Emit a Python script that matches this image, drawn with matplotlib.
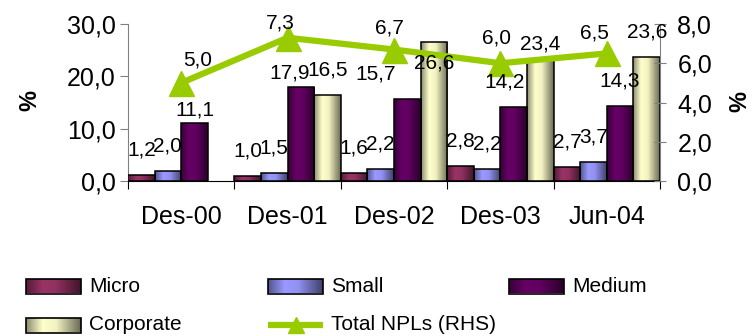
import numpy as np
import matplotlib
matplotlib.use('Agg')
import matplotlib.pyplot as plt
from matplotlib.colors import to_rgb
from matplotlib.patches import Rectangle

# NPL ratios by segment (%), left axis
categories = ['Des-00', 'Des-01', 'Des-02', 'Des-03', 'Jun-04']
micro = [1.2, 1.0, 1.6, 2.8, 2.7]
small = [2.0, 1.5, 2.2, 2.2, 3.7]
medium = [11.1, 17.9, 15.7, 14.2, 14.3]
corporate = [np.nan, 16.5, 26.6, 23.4, 23.6]
# total NPLs (%), right axis
total_npl = [5.0, 7.3, 6.7, 6.0, 6.5]

left_ticks = [0, 10, 20, 30]
right_ticks = [0, 2, 4, 6, 8]

series = [
    ('Micro', micro, '#993366'),
    ('Small', small, '#9999FF'),
    ('Medium', medium, '#660066'),
    ('Corporate', corporate, '#FFFFCC'),
]
line_name = 'Total NPLs (RHS)'
line_color = '#99CC00'

# label nudges in pixels (dx, dy); dy positive = up
bar_label_nudge = {(2, 0): (0, -12), (2, 1): (-11, -11), (2, 2): (-32, 0),
                   (3, 2): (0, -46), (2, 3): (-9, 0), (3, 3): (0, -10)}
line_label_nudge = [(16, 1), (-7, -7), (-5, 0), (-4, 3), (-12, -2)]

plt.rcParams['font.family'] = ['Liberation Sans', 'DejaVu Sans']
PX = 0.72  # points per pixel at 100 dpi


def fmt(v):
    return f'{v:.1f}'.replace('.', ',')


def shade(color, n=64):
    base = np.array(to_rgb(color))
    t = np.linspace(0, 1, n)
    k = np.interp(t, [0, 0.3, 0.55, 1], [0.55, 1.0, 0.95, 0.42])
    rgb = np.clip(base[None, :] * k[:, None], 0, 1)
    return rgb[None, :, :]


W, H = 754, 336
fig = plt.figure(figsize=(W / 100, H / 100), dpi=100)
ax = fig.add_axes([128 / W, 1 - 181 / H, (660 - 128) / W, (181 - 24) / H])
ax2 = ax.twinx()

nser = len(series)
bw = 1 / nser
for j, (name, vals, col) in enumerate(series):
    grad = shade(col)
    for i, v in enumerate(vals):
        if np.isnan(v):
            continue
        x0 = i + j * bw
        rect = Rectangle((x0, 0), bw, v, facecolor='none', edgecolor='black',
                         lw=1.1, zorder=3)
        ax.add_patch(rect)
        im = ax.imshow(grad, extent=[x0, x0 + bw, 0, v], aspect='auto',
                       zorder=2, interpolation='bilinear')
        im.set_clip_path(rect)
        dx, dy = bar_label_nudge.get((j, i), (0, 0))
        ax2.annotate(fmt(v), xy=(x0 + bw / 2, v), xycoords=ax.transData,
                     xytext=(dx * PX, (25 + dy) * PX), textcoords='offset points',
                     ha='center', va='center', fontsize=15, zorder=10,
                     annotation_clip=False)

ax.set_xlim(0, len(categories))
ax.set_ylim(0, 30)

xc = np.arange(len(categories)) + 0.5
ax2.plot(xc, total_npl, color=line_color, lw=4.5, marker='^', ms=18,
         mfc=line_color, mec=line_color, zorder=5)
for i, v in enumerate(total_npl):
    dx, dy = line_label_nudge[i]
    ax2.annotate(fmt(v), xy=(xc[i], v), xytext=(dx * PX, (22 + dy) * PX),
                 textcoords='offset points', ha='center', va='center',
                 fontsize=15, zorder=10, annotation_clip=False)
ax2.set_ylim(0, 8)

# axes styling
ax.set_xticks(range(len(categories) + 1))
ax.set_xticklabels([])
ax.set_xticks(xc, minor=True)
ax.set_xticklabels(categories, minor=True, fontsize=18)
ax.tick_params(axis='x', which='major', direction='out', length=6, color='black')
ax.tick_params(axis='x', which='minor', length=0, pad=17)
ax.set_yticks(left_ticks)
ax.set_yticklabels([fmt(t) for t in left_ticks], fontsize=18)
ax.tick_params(axis='y', direction='out', length=6, color='#808080', pad=3)
ax2.set_yticks(right_ticks)
ax2.set_yticklabels([fmt(t) for t in right_ticks], fontsize=18)
ax2.tick_params(axis='y', direction='inout', length=9, color='#808080', pad=8)

for a in (ax, ax2):
    a.spines['top'].set_visible(False)
ax.spines['right'].set_visible(False)
ax.spines['left'].set_color('#808080')
ax.spines['bottom'].set_color('black')
ax2.spines['left'].set_visible(False)
ax2.spines['bottom'].set_visible(False)
ax2.spines['right'].set_color('#808080')

fig.text(30 / W, 1 - 100 / H, '%', rotation=90, fontsize=17, fontweight='bold',
         ha='center', va='center')
fig.text(740 / W, 1 - 102 / H, '%', rotation=90, fontsize=17, fontweight='bold',
         ha='center', va='center')

# legend drawn in pixel coordinates
lax = fig.add_axes([0, 0, 1, 1])
lax.axis('off')
slots = [(26, 286), (268, 286), (509, 286), (26, 325), (268, 325)]
pw, ph = 55, 15
for (name, vals, col), (x, y) in zip(series, slots):
    r = Rectangle((x, y - ph / 2), pw, ph, facecolor='none', edgecolor='black',
                  lw=1.2, zorder=3)
    lax.add_patch(r)
    im = lax.imshow(shade(col), extent=[x, x + pw, y + ph / 2, y - ph / 2],
                    aspect='auto', zorder=2, interpolation='bilinear')
    im.set_clip_path(r)
    lax.text(x + 63, y, name, fontsize=15, va='center', ha='left')
x, y = slots[4]
lax.plot([x, x + pw], [y, y], color=line_color, lw=4.5, solid_capstyle='butt')
lax.plot([x + pw / 2], [y], marker='^', ms=11, color=line_color)
lax.text(x + 63, y, line_name, fontsize=15, va='center', ha='left')
lax.set_xlim(0, W)
lax.set_ylim(H, 0)

fig.savefig('out.png', dpi=100)
